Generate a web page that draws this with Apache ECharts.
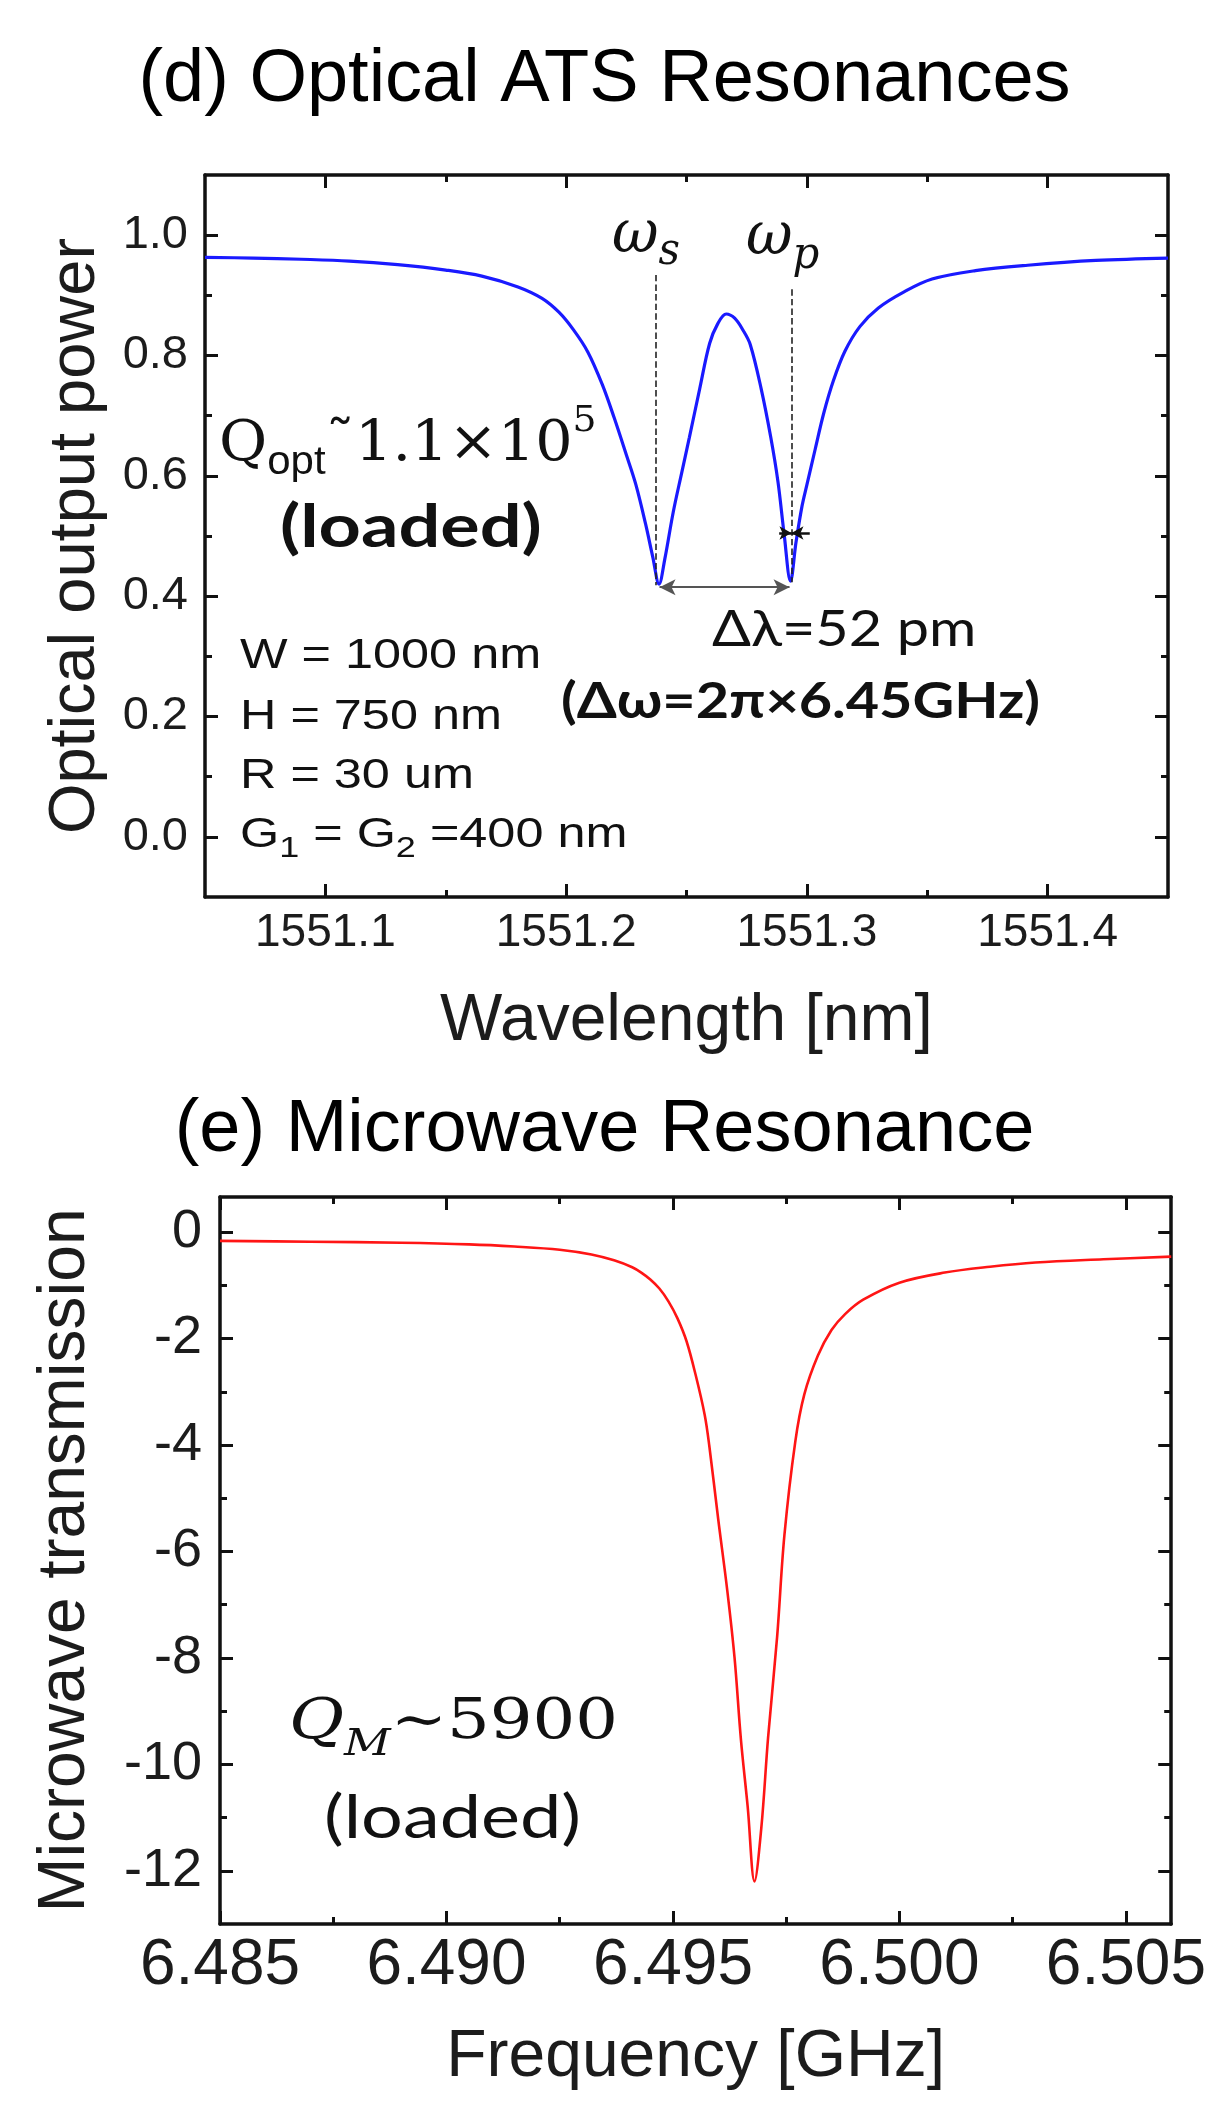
<!DOCTYPE html>
<html>
<head>
<meta charset="utf-8">
<script src="https://cdn.jsdelivr.net/npm/echarts@6/dist/echarts.min.js"></script>
<style>
  html, body { margin: 0; padding: 0; background: #fff; }
  #chart { width: 1209px; height: 2112px; }
</style>
</head>
<body>
<div id="chart"></div>
<script>
// (d) optical ATS transmission
const wavelengthNm = [
    1551.050, 1551.070, 1551.090, 1551.110, 1551.130, 1551.150, 1551.165, 1551.180, 1551.190, 1551.197,
    1551.203, 1551.209, 1551.215, 1551.220, 1551.225, 1551.229, 1551.233, 1551.236, 1551.2386, 1551.241,
    1551.2445, 1551.248, 1551.2512, 1551.2555, 1551.2596, 1551.263, 1551.2665, 1551.270, 1551.2735, 1551.2765,
    1551.281, 1551.285, 1551.288, 1551.2905, 1551.2932, 1551.2955, 1551.298, 1551.300, 1551.3035, 1551.307,
    1551.311, 1551.3158, 1551.322, 1551.3297, 1551.340, 1551.352, 1551.370, 1551.3917, 1551.420, 1551.450
];
const opticalPower = [
    0.963, 0.962, 0.960, 0.957, 0.951, 0.942, 0.932, 0.914, 0.895, 0.872,
    0.843, 0.806, 0.752, 0.696, 0.635, 0.585, 0.520, 0.465, 0.420, 0.462,
    0.540, 0.605, 0.664, 0.745, 0.820, 0.853, 0.869, 0.862, 0.842, 0.818,
    0.745, 0.664, 0.590, 0.505, 0.425, 0.490, 0.550, 0.585, 0.645, 0.704,
    0.758, 0.807, 0.848, 0.879, 0.905, 0.927, 0.941, 0.950, 0.958, 0.962
];
const opticalXTicks = [1551.1, 1551.2, 1551.3, 1551.4];
const opticalXMinor = [1551.15, 1551.25, 1551.35];
const opticalYTicks = [0, 0.2, 0.4, 0.6, 0.8, 1.0];
const opticalYMinor = [0.1, 0.3, 0.5, 0.7, 0.9];
// resonance markers: dip positions, dashed line tops, separation arrow level
const dipWavelengths = [1551.2373, 1551.2936];
const dipMarkerTops = [0.934, 0.910];
const dipFloor = 0.415;
const halfWidthLevel = 0.505;
const halfWidthEnds = [1551.2885, 1551.3012];

// (e) microwave transmission
const freqGHz = [
    6.4850, 6.4870, 6.4890, 6.4905, 6.4915, 6.4925, 6.4932, 6.4937, 6.4941, 6.4943,
    6.4945, 6.4947, 6.4949, 6.4951, 6.4953, 6.4955, 6.4957, 6.4958, 6.4960, 6.4962,
    6.49636, 6.4965, 6.49665, 6.4968, 6.49695, 6.4971, 6.4973, 6.49746, 6.4977, 6.4979,
    6.4982, 6.4985, 6.4988, 6.4992, 6.5000, 6.5010, 6.5020, 6.5030, 6.5045, 6.5060
];
const transmission = [
    -0.165, -0.18, -0.20, -0.23, -0.27, -0.33, -0.42, -0.53, -0.66, -0.76,
    -0.89, -1.06, -1.30, -1.62, -2.05, -2.68, -3.43, -4.00, -5.40, -6.74,
    -8.00, -9.53, -10.80, -12.20, -11.20, -9.50, -7.60, -5.70, -3.94, -3.05,
    -2.32, -1.84, -1.54, -1.27, -0.95, -0.76, -0.65, -0.57, -0.51, -0.46
];
const microXTicks = [6.485, 6.490, 6.495, 6.500, 6.505];
const microXMinor = [6.4875, 6.4925, 6.4975, 6.5025];
const microYTicks = [0, -2, -4, -6, -8, -10, -12];
const microYMinor = [-1, -3, -5, -7, -9, -11];

const SANS = "'Liberation Sans', Arial, sans-serif";
const SERIF = "'DejaVu Serif', serif";
const HUMANIST = "Lato, 'Open Sans', sans-serif";
const INK = '#111';

// one labelled axis plus its mirror, each with a major and a minor tick layer
function frameAxes(gridIndex, min, max, sides, major, minor, label, name) {
    const axes = [];
    sides.forEach((position, i) => {
        const primary = i === 0;
        axes.push(Object.assign({
            type: 'value', gridIndex, position, min, max,
            axisLine: { show: true, onZero: false, lineStyle: { color: INK, width: 3.5 } },
            axisTick: { show: true, inside: true, length: 13, customValues: major, lineStyle: { color: INK, width: 3 } },
            axisLabel: primary ? Object.assign({ customValues: major, color: '#1c1c1c', fontFamily: SANS }, label) : { show: false },
            splitLine: { show: false }
        }, primary ? name : {}));
        axes.push({
            type: 'value', gridIndex, position, min, max,
            axisLine: { show: false, onZero: false },
            axisTick: { show: true, inside: true, length: 7, customValues: minor, lineStyle: { color: INK, width: 3 } },
            axisLabel: { show: false },
            splitLine: { show: false }
        });
    });
    return axes;
}

const measure = document.createElement('canvas').getContext('2d');

// a run of text pieces laid side by side (for sub/superscripts)
function textRun(x, y, parts, base) {
    let cx = 0;
    const children = parts.map(p => {
        const s = Object.assign({}, base, p);
        const font = `${s.italic ? 'italic ' : ''}${s.bold ? 'bold ' : ''}${s.size}px ${s.family}`;
        measure.font = font;
        const el = {
            type: 'text', x: cx, y: s.dy || 0,
            style: { text: s.t, font, fill: INK, align: 'left', verticalAlign: 'middle', textAlign: 'left', textVerticalAlign: 'middle' }
        };
        cx += measure.measureText(s.t).width;
        return el;
    });
    return { type: 'group', x, y, scaleX: base.scaleX || 1, silent: true, children };
}

const xAxes = [
    ...frameAxes(0, 1551.05, 1551.45, ['bottom', 'top'], opticalXTicks, opticalXMinor,
        { fontSize: 46, margin: 13, formatter: v => v.toFixed(1) },
        { name: 'Wavelength [nm]', nameLocation: 'middle', nameGap: 92,
          nameTextStyle: { fontSize: 66, fontFamily: SANS, color: '#1c1c1c' } }),
    ...frameAxes(1, 6.485, 6.506, ['bottom', 'top'], microXTicks, microXMinor,
        { fontSize: 64, margin: 10, formatter: v => v.toFixed(3) },
        { name: 'Frequency [GHz]', nameLocation: 'middle', nameGap: 101,
          nameTextStyle: { fontSize: 66, fontFamily: SANS, color: '#1c1c1c' } })
];
const yAxes = [
    ...frameAxes(0, -0.1, 1.1, ['left', 'right'], opticalYTicks, opticalYMinor,
        { fontSize: 47, margin: 17, formatter: v => v.toFixed(1) },
        { name: 'Optical output power', nameLocation: 'middle', nameGap: 96,
          nameTextStyle: { fontSize: 65, fontFamily: SANS, color: '#1c1c1c' } }),
    ...frameAxes(1, -13, 0.66, ['left', 'right'], microYTicks, microYMinor,
        { fontSize: 54, margin: 18, formatter: v => String(v) },
        { name: 'Microwave transmission', nameLocation: 'middle', nameGap: 121,
          nameTextStyle: { fontSize: 66, fontFamily: SANS, color: '#1c1c1c' } })
];

const option = {
    backgroundColor: '#fff',
    animation: false,
    title: [
        { text: '(d) Optical ATS Resonances', left: 'center', top: 44, padding: 0,
          textStyle: { fontSize: 74, fontWeight: 'normal', fontFamily: SANS, color: '#000' } },
        { text: '(e) Microwave Resonance', left: 'center', top: 1094, padding: 0,
          textStyle: { fontSize: 74, fontWeight: 'normal', fontFamily: SANS, color: '#000' } }
    ],
    grid: [
        { left: 205, top: 175, width: 963, height: 722 },
        { left: 220, top: 1197, width: 956, height: 727 }
    ],
    xAxis: xAxes,
    yAxis: yAxes,
    series: [
        {
            name: 'Optical output power',
            type: 'line',
            xAxisIndex: 0,
            yAxisIndex: 0,
            data: wavelengthNm.map((x, i) => [x, opticalPower[i]]),
            showSymbol: false,
            smooth: 0.35,
            lineStyle: { color: '#1a1aff', width: 3.2 },
            markLine: {
                silent: true,
                symbol: ['none', 'none'],
                label: { show: false },
                lineStyle: { color: '#222', type: 'dashed', width: 1.6 },
                data: [
                    [{ coord: [dipWavelengths[0], dipMarkerTops[0]] }, { coord: [dipWavelengths[0], dipFloor + 0.003] }],
                    [{ coord: [dipWavelengths[1], dipMarkerTops[1]] }, { coord: [dipWavelengths[1], dipFloor + 0.008] }],
                    [
                        { coord: [dipWavelengths[0] + 0.0015, dipFloor], symbol: 'arrow', symbolSize: [12, 16],
                          lineStyle: { type: 'solid', color: '#555', width: 2 } },
                        { coord: [dipWavelengths[1] - 0.0008, dipFloor], symbol: 'arrow', symbolSize: [12, 16] }
                    ],
                    [
                        { coord: [halfWidthEnds[0], halfWidthLevel], lineStyle: { type: 'solid', color: INK, width: 2.5 } },
                        { coord: [dipWavelengths[1], halfWidthLevel], symbol: 'arrow', symbolSize: [10, 12] }
                    ],
                    [
                        { coord: [halfWidthEnds[1], halfWidthLevel], lineStyle: { type: 'solid', color: INK, width: 2.5 } },
                        { coord: [dipWavelengths[1], halfWidthLevel], symbol: 'arrow', symbolSize: [10, 12] }
                    ]
                ]
            }
        },
        {
            name: 'Microwave transmission',
            type: 'line',
            xAxisIndex: 4,
            yAxisIndex: 4,
            data: freqGHz.map((x, i) => [x, transmission[i]]),
            showSymbol: false,
            smooth: 0.35,
            lineStyle: { color: '#ff1515', width: 2.6 }
        }
    ],
    graphic: [
        textRun(612, 236, [{ t: 'ω' }, { t: 's', size: 44, dy: 17 }], { family: SERIF, italic: true, size: 60, scaleX: 0.95 }),
        textRun(746, 238, [{ t: 'ω' }, { t: 'p', size: 44, dy: 19 }], { family: SERIF, italic: true, size: 60, scaleX: 0.95 }),
        textRun(219, 445, [
            { t: 'Q' },
            { t: 'opt', family: SANS, size: 40, dy: 18 },
            { t: '˜1.1×10' },
            { t: '5', size: 36, dy: -23 }
        ], { family: SERIF, size: 56, scaleX: 1.05 }),
        textRun(280, 528, [{ t: '(loaded)' }], { family: HUMANIST, bold: true, size: 60, scaleX: 1.23 }),
        textRun(712, 630, [{ t: 'Δλ=52 pm' }], { family: HUMANIST, size: 50, scaleX: 1.15 }),
        textRun(561, 702, [{ t: '(Δω=2π×6.45GHz)' }], { family: HUMANIST, bold: true, size: 50, scaleX: 1.15 }),
        textRun(240, 656, [{ t: 'W = 1000 nm' }], { family: SANS, size: 42, scaleX: 1.2 }),
        textRun(240, 717, [{ t: 'H = 750 nm' }], { family: SANS, size: 42, scaleX: 1.2 }),
        textRun(240, 776, [{ t: 'R = 30 um' }], { family: SANS, size: 42, scaleX: 1.2 }),
        textRun(240, 835, [
            { t: 'G' }, { t: '1', size: 30, dy: 14 }, { t: ' = G' }, { t: '2', size: 30, dy: 14 }, { t: ' =400 nm' }
        ], { family: SANS, size: 42, scaleX: 1.2 }),
        textRun(289, 1723, [
            { t: 'Q', italic: true },
            { t: 'M', italic: true, size: 38, dy: 22 },
            { t: '~5900' }
        ], { family: SERIF, size: 56, scaleX: 1.2 }),
        textRun(324, 1819, [{ t: '(loaded)' }], { family: HUMANIST, size: 60, scaleX: 1.23 })
    ]
};

const chart = echarts.init(document.getElementById('chart'), null, { renderer: 'canvas' });
chart.setOption(option);
</script>
</body>
</html>
